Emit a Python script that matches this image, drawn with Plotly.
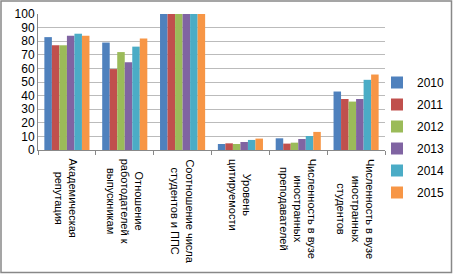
import plotly.graph_objects as go

categories = [
    "Академическая<br>репутация",
    "Отношение<br>работодателей к<br>выпускникам",
    "Соотношение числа<br>студентов и ППС",
    "Уровень<br>цитируемости",
    "Численность в вузе<br>иностранных<br>преподавателей",
    "Численность в вузе<br>иностранных<br>студентов",
]
years = ["2010", "2011", "2012", "2013", "2014", "2015"]
v2010 = [83, 79, 100, 4.4, 8.6, 43]
v2011 = [77, 59.5, 100, 4.9, 4.7, 37.5]
v2012 = [77, 72, 100, 4.4, 5.4, 35.6]
v2013 = [84, 64.5, 100, 5.9, 8.1, 37.5]
v2014 = [85.5, 76, 100, 7.4, 10.3, 51.6]
v2015 = [84, 82, 100, 8.4, 13.3, 55.5]
series = [v2010, v2011, v2012, v2013, v2014, v2015]
colors = ["#4F81BD", "#C0504D", "#9BBB59", "#8064A2", "#4BACC6", "#F79646"]

fig = go.Figure()
for y, vals, c in zip(years, series, colors):
    fig.add_trace(go.Bar(x=categories, y=vals, name=y, marker_color=c,
                         marker_line_width=0, legendgroup=y))

W, H = 453, 274
L, R, T, B = 38, 68, 14, 124
pw, ph = W - L - R, H - T - B

annotations = [dict(x=cat, xref="x", y=0, yref="paper", yshift=-7,
                    text=cat, textangle=90, showarrow=False,
                    xanchor="center", yanchor="top", align="center",
                    font=dict(size=11, color="#000"))
               for cat in categories]

fig.update_layout(
    width=W, height=H,
    margin=dict(l=L, r=R, t=T, b=B, autoexpand=False),
    paper_bgcolor="white", plot_bgcolor="white",
    barmode="group", bargap=0.22, bargroupgap=0,
    font=dict(family="Liberation Sans, Arial, sans-serif", size=12, color="#000"),
    legend=dict(x=(377 - L) / pw, y=(T + ph - 68) / ph, yanchor="top", xanchor="left",
                font=dict(size=12), tracegroupgap=3, itemwidth=30,
                bgcolor="rgba(0,0,0,0)", maxheight=260),
    showlegend=True,
    annotations=annotations,
    shapes=[dict(type="rect", xref="paper", yref="paper",
                 x0=(-L + 1) / pw, x1=(pw + R - 1.5) / pw,
                 y0=(-B + 1.5) / ph, y1=(ph + T - 1) / ph,
                 line=dict(color="#888", width=1.5), layer="below")],
)
fig.update_yaxes(range=[0, 100], dtick=10, showgrid=True, gridcolor="#BBBBBB",
                 gridwidth=1, showline=True, linecolor="#888", ticks="",
                 tickfont=dict(size=12), zeroline=False, automargin=False)
fig.update_xaxes(showline=True, linecolor="#888", ticks="outside", ticklen=4,
                 tickcolor="#888", tickson="boundaries", showticklabels=False,
                 automargin=False)
fig.write_html("out.html", config={"displayModeBar": False},
               post_script="document.body.style.margin='0';document.body.style.padding='0';document.body.style.overflow='hidden';")
